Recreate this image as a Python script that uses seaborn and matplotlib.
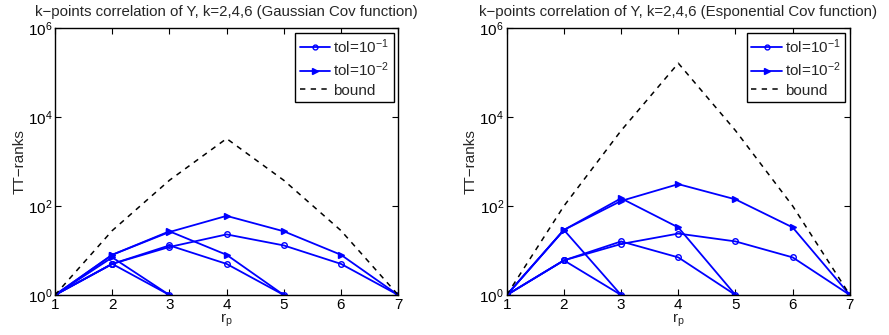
import numpy as np
import pandas as pd
import matplotlib
matplotlib.use("Agg")
import matplotlib.pyplot as plt
from matplotlib.lines import Line2D
import seaborn as sns

# ---- data ----
r_k2 = [1, 2, 3]
r_k4 = [1, 2, 3, 4, 5]
r_k6 = [1, 2, 3, 4, 5, 6, 7]

gauss_tol1_k2 = [1, 5, 1]
gauss_tol1_k4 = [1, 5, 13, 5, 1]
gauss_tol1_k6 = [1, 5, 12, 23, 13, 5, 1]
gauss_tol2_k2 = [1, 7, 1]
gauss_tol2_k4 = [1, 8, 27, 8, 1]
gauss_tol2_k6 = [1, 8, 26, 60, 27, 8, 1]
gauss_bound = [1, 28, 378, 3276, 378, 28, 1]

exp_tol1_k2 = [1, 6, 1]
exp_tol1_k4 = [1, 6, 16, 7, 1]
exp_tol1_k6 = [1, 6, 14, 24, 16, 7, 1]
exp_tol2_k2 = [1, 29, 1]
exp_tol2_k4 = [1, 29, 149, 33, 1]
exp_tol2_k6 = [1, 29, 130, 310, 141, 33, 1]
exp_bound = [1, 100, 4950, 161700, 4950, 100, 1]

titles = ["k\u2212points correlation of Y, k=2,4,6 (Gaussian Cov function)",
          "k\u2212points correlation of Y, k=2,4,6 (Esponential Cov function)"]
legend_labels = ["tol=$10^{-1}$", "tol=$10^{-2}$", "bound"]
x_ticks = [1, 2, 3, 4, 5, 6, 7]
y_ticks = [1, 1e2, 1e4, 1e6]

sns.set_theme(style="ticks")
plt.rcParams["font.family"] = ["Liberation Sans", "DejaVu Sans"]
plt.rcParams["mathtext.default"] = "regular"
plt.rcParams["axes.unicode_minus"] = True

fig = plt.figure(figsize=(8.89, 3.35), dpi=100)
axes = [fig.add_axes([0.0619, 0.1194, 0.386, 0.797]),
        fig.add_axes([0.570, 0.1194, 0.386, 0.797])]

panels = [
    (gauss_tol1_k2, gauss_tol1_k4, gauss_tol1_k6,
     gauss_tol2_k2, gauss_tol2_k4, gauss_tol2_k6, gauss_bound),
    (exp_tol1_k2, exp_tol1_k4, exp_tol1_k6,
     exp_tol2_k2, exp_tol2_k4, exp_tol2_k6, exp_bound),
]

blue = (0, 0, 1)
for ax, title, (t1k2, t1k4, t1k6, t2k2, t2k4, t2k6, bnd) in zip(axes, titles, panels):
    for rr, vals in [(r_k2, t1k2), (r_k4, t1k4), (r_k6, t1k6)]:
        sns.lineplot(x=rr, y=vals, ax=ax, color=blue, marker="o", markersize=4,
                     markerfacecolor="none", markeredgecolor=blue, markeredgewidth=1,
                     linewidth=1.3, legend=False)
    for rr, vals in [(r_k2, t2k2), (r_k4, t2k4), (r_k6, t2k6)]:
        sns.lineplot(x=rr, y=vals, ax=ax, color=blue, marker=">", markersize=5,
                     markerfacecolor=blue, markeredgecolor=blue, markeredgewidth=1,
                     linewidth=1.3, legend=False)
    sns.lineplot(x=r_k6, y=bnd, ax=ax, color="black", linestyle=(0, (3.5, 3.5)),
                 linewidth=1.1, legend=False)

    ax.set_yscale("log")
    ax.set_xlim(1, 7)
    ax.set_ylim(1, 1e6)
    ax.set_xticks(x_ticks)
    ax.set_yticks(y_ticks)
    ax.yaxis.set_minor_locator(matplotlib.ticker.NullLocator())
    ax.tick_params(direction="in", length=4, width=0.8, top=True, right=True,
                   labelsize=11, colors="black", pad=2)
    for sp in ax.spines.values():
        sp.set_color("black")
        sp.set_linewidth(1.0)
    ax.set_title(title, fontsize=10.8, pad=9)
    ax.set_xlabel("r$_p$", fontsize=11, labelpad=0)
    ax.set_ylabel("TT\u2212ranks", fontsize=11, labelpad=1)

    handles = [
        Line2D([], [], color=blue, marker="o", markersize=3.5, markerfacecolor="none",
               markeredgecolor=blue, linewidth=1.3),
        Line2D([], [], color=blue, marker=">", markersize=5, markerfacecolor=blue,
               linewidth=1.3),
        Line2D([], [], color="black", linestyle=(0, (3.5, 3.5)), linewidth=1.1),
    ]
    leg = ax.legend(handles, legend_labels, loc="upper right", fontsize=11,
                    fancybox=False, framealpha=1, edgecolor="black",
                    borderaxespad=0.3, handlelength=2.0, handletextpad=0.2,
                    labelspacing=0.3, borderpad=0.3)
    leg.get_frame().set_linewidth(1.0)

fig.savefig("out.png", dpi=100)
